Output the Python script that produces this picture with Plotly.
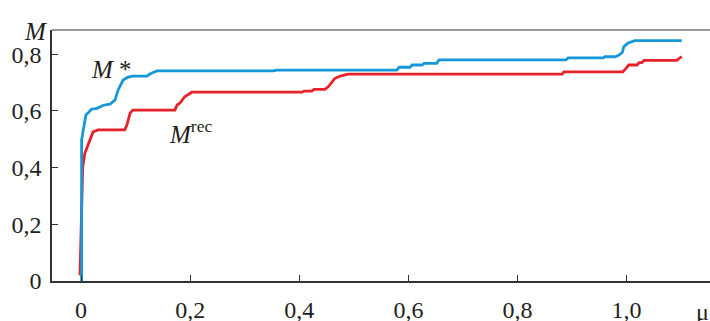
import plotly.graph_objects as go

# M* curve
m_star_mu = [0.001, 0.001, 0.004, 0.007, 0.009, 0.013, 0.019, 0.029, 0.041, 0.053, 0.062, 0.068,
             0.077, 0.086, 0.095, 0.121, 0.126, 0.139, 0.352, 0.359, 0.579, 0.583, 0.603, 0.607,
             0.625, 0.629, 0.652, 0.656, 0.889, 0.893, 0.957, 0.960, 0.979, 0.986, 0.992, 0.995,
             1.003, 1.015, 1.101]
m_star_val = [0.0, 0.497, 0.533, 0.568, 0.586, 0.593, 0.606, 0.609, 0.620, 0.624, 0.638, 0.674,
              0.709, 0.719, 0.723, 0.723, 0.730, 0.741, 0.741, 0.744, 0.744, 0.754, 0.754, 0.762,
              0.762, 0.768, 0.768, 0.780, 0.780, 0.787, 0.787, 0.791, 0.791, 0.797, 0.806, 0.827,
              0.840, 0.848, 0.848]

# M^rec curve
m_rec_mu = [-0.002, 0.003, 0.007, 0.016, 0.022, 0.031, 0.080, 0.084, 0.090, 0.095, 0.172, 0.176,
            0.181, 0.190, 0.203, 0.405, 0.409, 0.423, 0.427, 0.447, 0.453, 0.465, 0.475, 0.489,
            0.882, 0.885, 0.993, 0.999, 1.004, 1.019, 1.023, 1.028, 1.032, 1.092, 1.101]
m_rec_val = [0.02, 0.402, 0.451, 0.497, 0.526, 0.533, 0.533, 0.550, 0.593, 0.603, 0.603, 0.621,
             0.627, 0.650, 0.666, 0.666, 0.670, 0.670, 0.676, 0.676, 0.685, 0.714, 0.723, 0.730,
             0.730, 0.738, 0.738, 0.750, 0.762, 0.762, 0.770, 0.770, 0.778, 0.778, 0.792]

x_ticks = [0, 0.2, 0.4, 0.6, 0.8, 1.0]
x_tick_labels = ["0", "0,2", "0,4", "0,6", "0,8", "1,0"]
y_ticks = [0, 0.2, 0.4, 0.6, 0.8]
y_tick_labels = ["0", "0,2", "0,4", "0,6", "0,8"]

FONT = "Liberation Serif"
BLUE = "#1797d8"
RED = "#e8202a"

fig = go.Figure()
fig.add_trace(go.Scatter(x=m_rec_mu, y=m_rec_val, mode="lines",
                         line=dict(color=RED, width=2.8), hoverinfo="skip"))
fig.add_trace(go.Scatter(x=m_star_mu, y=m_star_val, mode="lines",
                         line=dict(color=BLUE, width=2.8), hoverinfo="skip"))

fig.update_layout(
    width=710, height=321,
    margin=dict(l=52, r=0, t=30, b=40),
    paper_bgcolor="white", plot_bgcolor="white",
    showlegend=False,
    font=dict(family=FONT, size=24, color="#231f20"),
    xaxis=dict(range=[-0.0533, 1.1529], tickvals=x_ticks, ticktext=x_tick_labels,
               ticks="inside", ticklen=6, tickwidth=1, tickcolor="#333",
               showline=True, linecolor="#333", linewidth=1.5, mirror=False,
               showgrid=False, zeroline=False, ticklabelstandoff=6, automargin=False),
    yaxis=dict(range=[0, 0.8854], tickvals=y_ticks, ticktext=y_tick_labels,
               ticks="inside", ticklen=6, tickwidth=1, tickcolor="#333",
               showline=True, linecolor="#333", linewidth=1.5,
               showgrid=False, zeroline=False, ticklabelstandoff=4, automargin=False),
)

# frame line along the top of the plotting area
fig.add_shape(type="line", xref="paper", yref="paper", x0=0, x1=1, y0=1, y1=1,
              line=dict(color="#777", width=1.5))

fig.add_annotation(text="<i>M</i>", xref="paper", yref="paper", x=-0.0245, y=0.996,
                   xanchor="center", yanchor="middle", showarrow=False,
                   font=dict(size=25))
fig.add_annotation(text="μ", xref="paper", yref="paper", x=1.0, y=0.0,
                   xanchor="right", yanchor="top", showarrow=False, yshift=-16, xshift=1,
                   font=dict(size=24))
fig.add_annotation(text="<i>M</i> *", x=0.015, y=0.745, xanchor="left", yanchor="middle",
                   showarrow=False, font=dict(size=25))
fig.add_annotation(text="<i>M</i><sup>rec</sup>", x=0.157, y=0.525, xanchor="left",
                   yanchor="middle", showarrow=False, font=dict(size=25))

fig.write_html("out.html")
